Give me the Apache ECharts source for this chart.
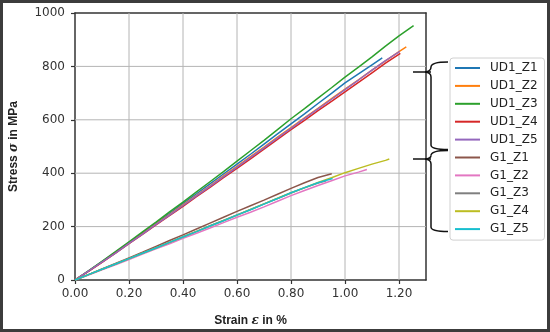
<!DOCTYPE html>
<html>
<head>
<meta charset="utf-8">
<script src="https://cdn.jsdelivr.net/npm/echarts@6/dist/echarts.min.js"></script>
<style>
html,body{margin:0;padding:0;background:#fff;}
#chart{width:550px;height:332px;}
</style>
</head>
<body>
<div id="chart"></div>
<script>
// strain grid (%) shared by all specimens
const strainGrid = [0,0.05,0.10,0.15,0.20,0.25,0.30,0.35,0.40,0.45,0.50,0.55,0.60,0.65,0.70,0.75,0.80,0.85,0.90,0.95,1.00,1.05,1.10,1.15,1.20,1.25];

const seriesNames = ['UD1_Z1','UD1_Z2','UD1_Z3','UD1_Z4','UD1_Z5','G1_Z1','G1_Z2','G1_Z3','G1_Z4','G1_Z5'];
const seriesColors = ['#1f77b4','#ff7f0e','#2ca02c','#d62728','#9467bd','#8c564b','#e377c2','#7f7f7f','#bcbd22','#17becf'];

// stress (MPa) at the strain grid points
const UD1_Z1 = [0,34,69,104,140,177,213,250,287,323,360,397,434,471,509,547,585,622,661,699,738,772,806];
const UD1_Z2 = [0,33,67,102,138,174,210,245,281,317,353,390,426,462,498,535,571,607,643,679,715,750,786,821,855];
const UD1_Z3 = [0,34,70,106,143,180,217,255,292,330,368,406,445,484,523,563,604,642,681,720,760,797,836,876,914];
const UD1_Z4 = [0,32,66,101,136,171,206,241,276,312,347,383,418,454,490,527,563,598,634,669,705,740,776,812];
const UD1_Z5 = [0,33,67,101,137,172,208,243,279,315,351,387,423,459,495,532,568,605,641,677,713,749,786,822];
const G1_Z1 = [0,20,41,62,83,104,126,148,169,191,213,235,257,278,299,321,343,364,384];
const G1_Z2 = [0,19,38,57,77,97,117,136,156,175,195,215,235,254,274,295,316,335,354,372,390,404];
const G1_Z3 = [0,20,40,60,80,101,121,141,162,182,203,223,244,264,285,305,326,345,363];
const G1_Z4 = [0,20,40,60,80,100,120,141,161,182,202,223,243,264,285,306,327,346,365,383,402,418,434,448];
const G1_Z5 = [0,20,40,60,80,100,120,141,161,181,202,222,243,263,284,305,327,346,364];

// failure points (last point of each curve)
const endStrain = [1.138,1.227,1.254,1.205,1.203,0.951,1.081,0.930,1.164,0.954];
const endStress = [832,873,953,849,856,398,414,372,453,380];

const stressSets = [UD1_Z1,UD1_Z2,UD1_Z3,UD1_Z4,UD1_Z5,G1_Z1,G1_Z2,G1_Z3,G1_Z4,G1_Z5];

// tick values and axis extents
const xTicks = [0,0.2,0.4,0.6,0.8,1.0,1.2];
const yTicks = [0,200,400,600,800,1000];
const xMax = 1.3, yMax = 1000;

// grid lines as one broken polyline in data space (drawn by the line series on the axes' scales)
const gridData = [];
xTicks.filter(v => v > 0 && v < xMax).forEach(v => { gridData.push([v, 0], [v, yMax], ['-', '-']); });
yTicks.filter(v => v > 0 && v < yMax).forEach(v => { gridData.push([0, v], [xMax, v], ['-', '-']); });

const series = [{
  name: 'gridlines',
  type: 'line',
  data: gridData,
  symbol: 'none',
  showSymbol: false,
  connectNulls: false,
  silent: true,
  color: '#b4b4b4',
  lineStyle: {width: 1, color: '#b4b4b4'},
  emphasis: {disabled: true},
  z: 1,
  animation: false
}].concat(seriesNames.map((name, k) => {
  const data = stressSets[k].map((v, i) => [strainGrid[i], v]);
  data.push([endStrain[k], endStress[k]]);
  return {
    name: name,
    type: 'line',
    data: data,
    symbol: 'none',
    smooth: false,
    color: seriesColors[k],
    lineStyle: {width: 1.5, color: seriesColors[k]},
    z: 3,
    animation: false
  };
}));

const chart = echarts.init(document.getElementById('chart'), null, {renderer: 'canvas'});

const braceStyle = {stroke: '#111', lineWidth: 1.5, fill: null};
function curve(x1, y1, cx, cy, x2, y2) {
  return {type: 'bezierCurve', shape: {x1: x1, y1: y1, cpx1: cx, cpy1: cy, x2: x2, y2: y2}, style: braceStyle, silent: true, z: 100};
}
function seg(x1, y1, x2, y2) {
  return {type: 'line', shape: {x1: x1, y1: y1, x2: x2, y2: y2}, style: braceStyle, silent: true, z: 100};
}
function brace(yTop, yTip, yBot) {
  return [
    curve(448, yTop, 431, yTop, 431, yTop + 5),
    curve(431, yTop + 5, 431, yTip - 0.5, 425, yTip),
    curve(425, yTip, 431, yTip + 0.5, 431, yTip + 5),
    seg(431, yTip + 5, 431, yBot - 4.5),
    curve(431, yBot - 4.5, 431, yBot, 448, yBot),
    seg(413, yTip, 431, yTip)
  ];
}

chart.setOption({
  backgroundColor: '#fff',
  animation: false,
  grid: {left: 66, right: 124, top: 13, bottom: 45, show: false},
  xAxis: [{
    type: 'value', min: 0, max: xMax, interval: 0.2,
    name: 'Strain {i|ε} in %',
    nameLocation: 'middle', nameGap: 35,
    nameTextStyle: {fontFamily: 'Liberation Sans', fontWeight: 'bold', fontSize: 12, color: '#222',
      rich: {i: {fontFamily: 'DejaVu Serif', fontStyle: 'italic', fontSize: 12, color: '#222'}}},
    axisLine: {show: true, onZero: false, lineStyle: {color: '#333', width: 1.5}},
    axisTick: {show: true, length: 4, lineStyle: {color: '#333', width: 1.2}},
    axisLabel: {fontFamily: 'DejaVu Sans', fontSize: 12, color: '#333', margin: 8, showMaxLabel: false,
      formatter: v => (Math.abs(v / 0.2 - Math.round(v / 0.2)) < 1e-6 ? v.toFixed(2) : '')},
    splitLine: {show: false}
  }, {
    type: 'value', min: 0, max: xMax, position: 'top',
    axisLine: {show: true, onZero: false, lineStyle: {color: '#333', width: 1.5}},
    axisTick: {show: false}, axisLabel: {show: false}, splitLine: {show: false}
  }],
  yAxis: [{
    type: 'value', min: 0, max: yMax, interval: 200,
    name: 'Stress {i|σ} in MPa',
    nameLocation: 'middle', nameGap: 55, nameRotate: 90,
    nameTextStyle: {fontFamily: 'Liberation Sans', fontWeight: 'bold', fontSize: 12, color: '#222',
      rich: {i: {fontFamily: 'DejaVu Serif', fontStyle: 'italic', fontSize: 12, color: '#222'}}},
    axisLine: {show: true, onZero: false, lineStyle: {color: '#333', width: 1.5}},
    axisTick: {show: true, length: 4, lineStyle: {color: '#333', width: 1.2}},
    axisLabel: {fontFamily: 'DejaVu Sans', fontSize: 12, color: '#333', margin: 10,
      formatter: v => (yTicks.indexOf(v) >= 0 ? String(v) : '')},
    splitLine: {show: false}
  }, {
    type: 'value', min: 0, max: yMax, position: 'right',
    axisLine: {show: true, onZero: false, lineStyle: {color: '#333', width: 1.5}},
    axisTick: {show: false}, axisLabel: {show: false}, splitLine: {show: false}
  }],
  legend: {
    orient: 'vertical', left: 450, top: 58,
    data: seriesNames,
    icon: 'rect',
    itemWidth: 25, itemHeight: 2, itemGap: 3.9,
    padding: [3, 7, 4, 5],
    borderColor: '#d0d0d0', borderWidth: 1, borderRadius: 3,
    textStyle: {fontFamily: 'DejaVu Sans', fontSize: 12, color: '#222', lineHeight: 14, padding: [0, 0, 0, 5]}
  },
  series: series,
  graphic: [
    {type: 'rect', shape: {x: 1.5, y: 1.5, width: 547, height: 329}, style: {stroke: '#3c3c3c', lineWidth: 3, fill: null}, silent: true, z: 100}
  ].concat(brace(62, 72, 149.5)).concat(brace(150.5, 159, 231.5))
});
</script>
</body>
</html>
